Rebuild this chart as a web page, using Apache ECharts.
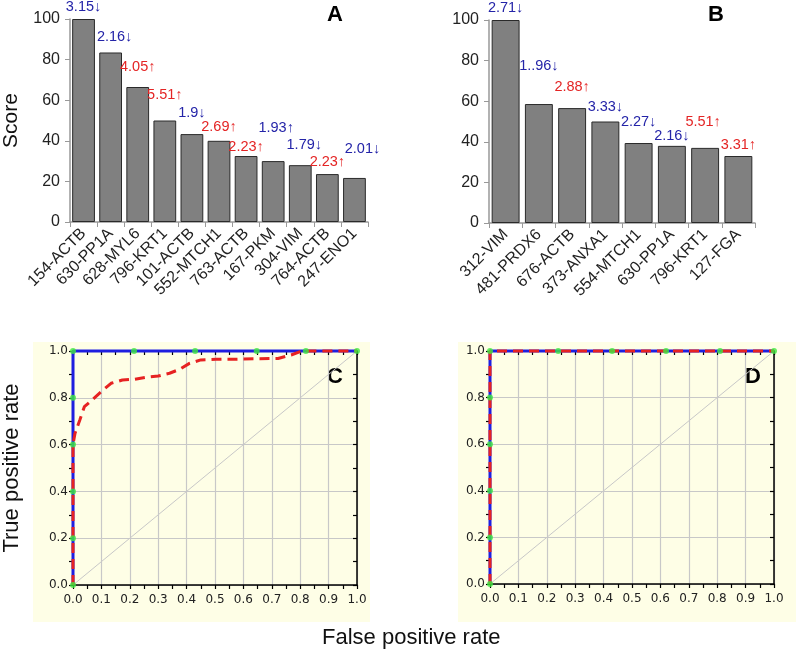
<!DOCTYPE html>
<html><head><meta charset="utf-8">
<script src="https://cdn.jsdelivr.net/npm/echarts@6/dist/echarts.min.js"></script>
<style>html,body{margin:0;padding:0;background:#fff}#c{width:796px;height:652px}</style>
</head><body><div id="c"></div>
<script>
// ---------- DATA ----------
const categoriesA = ['154-ACTB','630-PP1A','628-MYL6','796-KRT1','101-ACTB','552-MTCH1','763-ACTB','167-PKM','304-VIM','764-ACTB','247-ENO1'];
const scoresA = [100, 83.5, 66.5, 50, 43.3, 40, 32.5, 30, 28, 23.6, 21.7];
const foldA = ['3.15↓','2.16↓','4.05↑','5.51↑','1.9↓','2.69↑','2.23↑','1.93↑','1.79↓','2.23↑','2.01↓'];
const toneA = ['b','b','r','r','b','r','r','b','b','r','b'];

const categoriesB = ['312-VIM','481-PRDX6','676-ACTB','373-ANXA1','554-MTCH1','630-PP1A','796-KRT1','127-FGA'];
const scoresB = [100, 58.6, 56.6, 50, 39.4, 38, 37, 33];
const foldB = ['2.71↓','1..96↓','2.88↑','3.33↓','2.27↓','2.16↓','5.51↑','3.31↑'];
const toneB = ['b','b','r','b','b','b','r','r'];

const scoreTicks = [0, 20, 40, 60, 80, 100];

const diagonal = [[0,0],[1,1]];
const rocBlueC = [[0,0],[0,1],[1,1]];
const rocRedC = [[0,0],[0,0.6],[0.007,0.648],[0.024,0.705],[0.04,0.762],[0.067,0.79],[0.099,0.826],[0.134,0.862],[0.174,0.876],[0.215,0.879],[0.26,0.888],[0.30,0.893],[0.34,0.905],[0.376,0.922],[0.41,0.947],[0.45,0.962],[0.503,0.965],[0.57,0.965],[0.653,0.967],[0.722,0.968],[0.768,0.983],[0.80,0.997],[0.82,1],[1,1]];
const pointsC = [[0,0],[0,0.2],[0,0.4],[0,0.6],[0,0.8],[0,1],[0.215,1],[0.43,1],[0.647,1],[0.82,1],[1,1]];

const rocBlueD = [[0,0],[0,1],[1,1]];
const rocRedD = [[0,0],[0,1],[1,1]];
const pointsD = [[0,0],[0,0.2],[0,0.4],[0,0.6],[0,0.8],[0,1],[0.24,1],[0.43,1],[0.62,1],[0.81,1],[1,1]];

// ---------- STYLE ----------
const FONT = 'Liberation Sans, Arial, sans-serif';
const TICKFONT = 'DejaVu Sans, Verdana, sans-serif';
const toneColor = {b:'#2424a8', r:'#e42424'};
const liftA = [[0,5],[4,8],[0,13],[0,18],[0,14],[0,6],[0,2],[3,26],[4,13],[0,5],[8,21]];
const liftB = [[0,5],[0,31],[0,14],[0,7],[0,14],[0,2],[-2,18],[0,4]];

function barData(vals, folds, tones, lifts){
  return vals.map((v,i)=>({
    value: v,
    label: {show:true, position:'top', formatter: folds[i], color: toneColor[tones[i]],
            fontSize:14.5, fontFamily:FONT, distance: lifts[i][1], offset:[lifts[i][0],0]}
  }));
}
function barYAxis(gi, name){
  return {type:'value', gridIndex:gi, min:0, max:100, interval:20,
    name:name, nameLocation:'middle', nameGap:48, nameRotate:90,
    nameTextStyle:{fontSize:21, color:'#111', fontFamily:FONT},
    axisLine:{show:true, lineStyle:{color:'#999', width:1.5}},
    axisTick:{show:true, length:5, lineStyle:{color:'#999'}},
    axisLabel:{fontSize:16, color:'#222', fontFamily:FONT, margin:10},
    splitLine:{show:false}};
}
function barXAxis(gi, cats){
  return {type:'category', gridIndex:gi, data:cats,
    axisLine:{lineStyle:{color:'#999', width:1.5}},
    axisTick:{show:true, length:5, lineStyle:{color:'#999'}},
    axisLabel:{rotate:45, interval:0, fontSize:16, color:'#222', fontFamily:FONT, margin:9}};
}
function rocXAxis(gi, showLabel, inside){
  return {type:'value', gridIndex:gi, min:0, max:1, interval:0.1,
    axisLine:{show:true, onZero:false, lineStyle:{color:'#000', width:1.5}},
    axisTick:{show:true, inside:inside, length:4, lineStyle:{color:'#000', width:1.2}},
    minorTick:{show:true, splitNumber:2, length:4, lineStyle:{color:'#000', width:1.2}},
    axisLabel:{show:showLabel, fontSize:12, color:'#222', fontFamily:TICKFONT, margin:9, formatter:v=>v.toFixed(1)},
    splitLine:{show:showLabel, lineStyle:{color:'#c8c8c8', width:1.2}}};
}
function rocYAxis(gi, showLabel, inside, name){
  return {type:'value', gridIndex:gi, min:0, max:1, interval:0.2,
    name: name || '', nameLocation:'middle', nameGap:50, nameRotate:90,
    nameTextStyle:{fontSize:22, color:'#111', fontFamily:FONT},
    axisLine:{show:true, onZero:false, lineStyle:{color:'#000', width:1.5}},
    axisTick:{show:true, inside:inside, length:4, lineStyle:{color:'#000', width:1.2}},
    minorTick:{show:true, splitNumber:2, length:4, lineStyle:{color:'#000', width:1.2}},
    axisLabel:{show:showLabel, fontSize:12, color:'#222', fontFamily:TICKFONT, margin:5, formatter:v=>v.toFixed(1)},
    splitLine:{show:showLabel, lineStyle:{color:'#c8c8c8', width:1.2}}};
}
function line(xi, yi, data, color, width, type, z){
  return {type:'line', xAxisIndex:xi, yAxisIndex:yi, data:data, showSymbol:false, symbol:'none', clip:false,
    lineStyle:{color:color, width:width, type:type}, z:z, animation:false};
}
function dots(xi, yi, data){
  return {type:'scatter', xAxisIndex:xi, yAxisIndex:yi, data:data, symbolSize:6, clip:false,
    itemStyle:{color:'#3ee83e'}, z:10, animation:false};
}

const chart = echarts.init(document.getElementById('c'), null, {renderer:'canvas'});
chart.setOption({
  animation:false,
  graphic:[
    {type:'rect', shape:{x:33,y:342,width:337,height:280}, style:{fill:'#fefee6'}, z:-10},
    {type:'rect', shape:{x:458,y:342,width:338,height:280}, style:{fill:'#fefee6'}, z:-10},
    {type:'text', left:327, top:4, style:{text:'A', font:'bold 22px '+FONT, fill:'#000'}},
    {type:'text', left:708, top:4, style:{text:'B', font:'bold 22px '+FONT, fill:'#000'}},
    {type:'text', left:327, top:366, style:{text:'C', font:'bold 22px '+FONT, fill:'#000'}},
    {type:'text', left:745, top:366, style:{text:'D', font:'bold 22px '+FONT, fill:'#000'}},
    {type:'text', left:322, top:627, style:{text:'False positive rate', font:'22px '+FONT, fill:'#111'}}
  ],
  grid:[
    {left:68, right:428, top:19, bottom:430},
    {left:489, right:41, top:20, bottom:429},
    {left:68, right:439, top:351, bottom:67},
    {left:490, right:22, top:351, bottom:68}
  ],
  xAxis:[
    barXAxis(0, categoriesA), barXAxis(1, categoriesB),
    rocXAxis(2, true, false), rocXAxis(3, true, false),
    rocXAxis(2, false, true), rocXAxis(3, false, true)
  ],
  yAxis:[
    barYAxis(0, 'Score'), barYAxis(1, ''),
    rocYAxis(2, true, false, 'True positive rate'), rocYAxis(3, true, false),
    rocYAxis(2, false, true), rocYAxis(3, false, true)
  ],
  series:[
    {type:'bar', xAxisIndex:0, yAxisIndex:0, data:barData(scoresA, foldA, toneA, liftA), barCategoryGap:'16%',
      itemStyle:{color:'#808080', borderColor:'#2a2a2a', borderWidth:1}},
    {type:'bar', xAxisIndex:1, yAxisIndex:1, data:barData(scoresB, foldB, toneB, liftB), barCategoryGap:'16%',
      itemStyle:{color:'#808080', borderColor:'#2a2a2a', borderWidth:1}},
    line(2,2, diagonal, '#c8c8c8', 1, 'solid', 2),
    line(2,2, rocBlueC, '#1e1ee0', 3, 'solid', 4),
    line(2,2, rocRedC, '#e62222', 3, [10,6], 5),
    dots(2,2, pointsC),
    line(3,3, diagonal, '#c8c8c8', 1, 'solid', 2),
    line(3,3, rocBlueD, '#1e1ee0', 3, 'solid', 4),
    line(3,3, rocRedD, '#e62222', 3, [10,6], 5),
    dots(3,3, pointsD)
  ]
});
</script>
</body></html>
